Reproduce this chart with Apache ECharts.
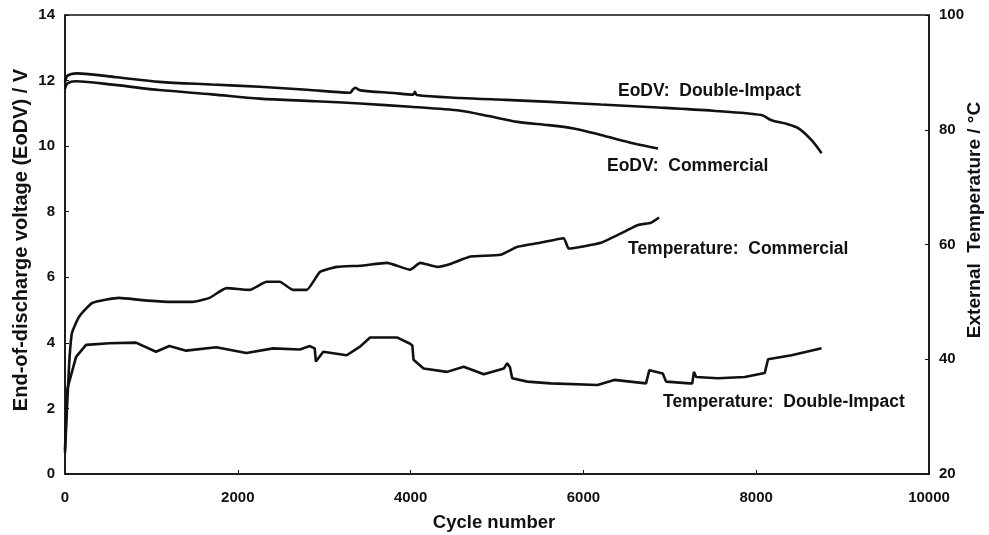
<!DOCTYPE html>
<html>
<head>
<meta charset="utf-8">
<title>EoDV and temperature vs cycle number</title>
<script src="https://cdn.jsdelivr.net/npm/echarts@6/dist/echarts.min.js"></script>
<style>
  html, body { margin: 0; padding: 0; background: #fff; }
  #chart { width: 989px; height: 535px; }
</style>
</head>
<body>
<div id="chart"></div>
<script>
// EoDV: Double-Impact (left axis, V)
var eodvDiCycle = [0, 30, 139, 600, 1092, 1700, 2253, 2800, 3298, 3330, 3357, 3420, 3800, 4030, 4050, 4070, 4576, 5100, 5621, 6200, 6864, 7500, 8060, 8177, 8350, 8490, 8641, 8757];
var eodvDiVolt = [11.95, 12.15, 12.22, 12.1, 11.96, 11.88, 11.81, 11.72, 11.63, 11.72, 11.78, 11.7, 11.62, 11.57, 11.66, 11.56, 11.47, 11.41, 11.35, 11.27, 11.18, 11.08, 10.95, 10.79, 10.68, 10.54, 10.18, 9.78];

// EoDV: Commercial (left axis, V)
var eodvComCycle = [0, 30, 124, 600, 1092, 1700, 2253, 2900, 3415, 4000, 4576, 4900, 5238, 5600, 5888, 6202, 6585, 6864];
var eodvComVolt = [11.75, 11.92, 11.98, 11.86, 11.71, 11.58, 11.45, 11.37, 11.3, 11.2, 11.08, 10.92, 10.74, 10.64, 10.54, 10.34, 10.08, 9.93];

// Temperature: Commercial (right axis, degC)
var tempComCycle = [0, 46, 81, 163, 314, 627, 894, 1208, 1475, 1672, 1870, 2137, 2334, 2485, 2636, 2799, 2950, 3148, 3415, 3728, 3995, 4111, 4309, 4460, 4692, 5041, 5238, 5500, 5772, 5830, 6202, 6469, 6632, 6783, 6876];
var tempComT = [23.7, 38.6, 44.6, 47.4, 49.8, 50.7, 50.3, 50.0, 50.0, 50.7, 52.4, 52.1, 53.5, 53.5, 52.1, 52.1, 55.2, 56.1, 56.3, 56.8, 55.6, 56.8, 56.1, 56.6, 57.9, 58.2, 59.6, 60.3, 61.1, 59.3, 60.3, 62.2, 63.4, 63.8, 64.7];

// Temperature: Double-Impact (right axis, degC)
var tempDiCycle = [0, 23, 128, 244, 511, 821, 1053, 1208, 1402, 1750, 2099, 2408, 2718, 2834, 2890, 2904, 2989, 3260, 3415, 3531, 3841, 3995, 4020, 4034, 4150, 4421, 4615, 4847, 5079, 5118, 5150, 5176, 5351, 5621, 6163, 6357, 6725, 6745, 6763, 6919, 6940, 6957, 7228, 7260, 7279, 7305, 7557, 7867, 8099, 8137, 8409, 8757];
var tempDiT = [24.2, 34.6, 40.4, 42.5, 42.8, 42.9, 41.3, 42.3, 41.5, 42.1, 41.1, 41.9, 41.7, 42.3, 41.9, 39.6, 41.3, 40.7, 42.2, 43.8, 43.8, 42.7, 42.4, 39.9, 38.4, 37.8, 38.7, 37.4, 38.4, 39.3, 38.6, 36.7, 36.1, 35.8, 35.5, 36.4, 35.8, 35.8, 38.1, 37.5, 37.4, 36.1, 35.8, 35.8, 37.8, 36.9, 36.7, 36.9, 37.6, 40.0, 40.7, 41.9];

function zip(xs, ys) {
  return xs.map(function (x, i) { return [x, ys[i]]; });
}

var FONT = "'Liberation Sans', Arial, Helvetica, sans-serif";
var INK = "#111";

function curve(name, xs, ys, yIdx, smooth) {
  return {
    name: name,
    type: "line",
    yAxisIndex: yIdx,
    data: zip(xs, ys),
    showSymbol: false,
    smooth: smooth,
    lineStyle: { color: INK, width: 2.6 },
    itemStyle: { color: INK }
  };
}

function label(text, x, y) {
  return {
    type: "text",
    left: x,
    top: y - 10,
    style: { text: text, fill: INK, font: "bold 17.5px " + FONT }
  };
}

var chart = echarts.init(document.getElementById("chart"));
chart.setOption({
  animation: false,
  backgroundColor: "#fff",
  grid: {
    left: 65,
    right: 60,
    top: 15,
    bottom: 61,
    show: true,
    borderColor: INK,
    borderWidth: 1.5
  },
  xAxis: {
    type: "value",
    min: 0,
    max: 10000,
    interval: 2000,
    axisLine: { lineStyle: { color: INK, width: 1.5 } },
    axisTick: { inside: true, length: 4, lineStyle: { color: INK } },
    axisLabel: {
      color: INK, fontFamily: FONT, fontWeight: "bold", fontSize: 15, margin: 16,
      formatter: function (v) { return String(v); }
    },
    splitLine: { show: false }
  },
  yAxis: [
    {
      type: "value",
      min: 0,
      max: 14,
      interval: 2,
      axisLine: { show: true, lineStyle: { color: INK, width: 1.5 } },
      axisTick: { show: true, inside: true, length: 4, lineStyle: { color: INK } },
      axisLabel: { color: INK, fontFamily: FONT, fontWeight: "bold", fontSize: 15, margin: 10 },
      splitLine: { show: false }
    },
    {
      type: "value",
      position: "right",
      min: 20,
      max: 100,
      interval: 20,
      axisLine: { show: true, lineStyle: { color: INK, width: 1.5 } },
      axisTick: { show: true, inside: true, length: 4, lineStyle: { color: INK } },
      axisLabel: { color: INK, fontFamily: FONT, fontWeight: "bold", fontSize: 15, margin: 10 },
      splitLine: { show: false }
    }
  ],
  series: [
    curve("EoDV: Double-Impact", eodvDiCycle, eodvDiVolt, 0, 0.3),
    curve("EoDV: Commercial", eodvComCycle, eodvComVolt, 0, 0.3),
    curve("Temperature: Commercial", tempComCycle, tempComT, 1, 0.15),
    curve("Temperature: Double-Impact", tempDiCycle, tempDiT, 1, false)
  ],
  graphic: [
    label("EoDV:  Double-Impact", 618, 92),
    label("EoDV:  Commercial", 607, 167),
    label("Temperature:  Commercial", 628, 250),
    label("Temperature:  Double-Impact", 663, 403),
    {
      type: "text",
      x: 21,
      y: 240,
      rotation: Math.PI / 2,
      style: {
        text: "End-of-discharge voltage (EoDV) / V",
        fill: INK,
        font: "bold 20px " + FONT,
        align: "center",
        verticalAlign: "middle"
      }
    },
    {
      type: "text",
      x: 975,
      y: 220,
      rotation: Math.PI / 2,
      style: {
        text: "External  Temperature / \u00b0C",
        fill: INK,
        font: "bold 19px " + FONT,
        align: "center",
        verticalAlign: "middle"
      }
    },
    {
      type: "text",
      x: 494,
      y: 523,
      style: {
        text: "Cycle number",
        fill: INK,
        font: "bold 18.5px " + FONT,
        align: "center",
        verticalAlign: "middle"
      }
    }
  ]
});
</script>
</body>
</html>
